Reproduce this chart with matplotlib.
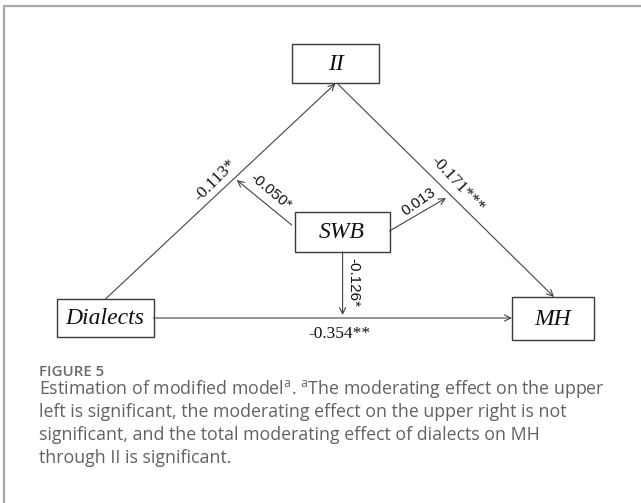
import matplotlib
matplotlib.use("Agg")
import matplotlib.pyplot as plt
from matplotlib.patches import Rectangle

W, H = 641, 503
DPI = 100

# ---- data ----
node_names = ["II", "SWB", "Dialects", "MH"]
edge_labels = ["-0.113*", "-0.050*", "0.013", "-0.171***", "-0.126*", "-0.354**"]
caption_title = "FIGURE 5"
caption_lines = [
    r"Estimation of modified model$^{\mathrm{a}}$. $^{\mathrm{a}}$The moderating effect on the upper",
    "left is significant, the moderating effect on the upper right is not",
    "significant, and the total moderating effect of dialects on MH",
    "through II is significant.",
]

# ---- layout (pixel coords) ----
boxes = {
    "II": (291.7, 44, 379.3, 83),
    "SWB": (294.5, 212, 389.5, 252),
    "Dialects": (57, 299, 153.5, 337),
    "MH": (512, 297, 594, 340),
}
arrows = [
    ((105.5, 299), (335.5, 83.5)),   # Dialects -> II
    ((338.3, 84.5), (554, 297)),     # II -> MH
    ((153.5, 318), (512, 318)),      # Dialects -> MH
    ((342.6, 252), (342.6, 315)),    # SWB -> direct path
    ((291.7, 225), (236.7, 180)),    # SWB -> a path
    ((389.5, 231), (446, 198)),      # SWB -> b path
]
label_pos = [
    (215, 180, 45, "serif"),
    (271, 192, -40, "sans"),
    (419, 202, 35, "sans"),
    (458, 184, -47, "serif"),
    (353, 282, -90, "sans"),
    (339, 334, 0, "serif"),
]

plt.rcParams["mathtext.fontset"] = "custom"
plt.rcParams["mathtext.rm"] = "Open Sans"

fig = plt.figure(figsize=(W / DPI, H / DPI), dpi=DPI)
ax = fig.add_axes([0, 0, 1, 1])
ax.set_xlim(0, W)
ax.set_ylim(H, 0)
ax.axis("off")

# panel border (top and left)
ax.plot([4, 4, W], [H, 6, 6], color="#a8a8a8", lw=1.6, solid_capstyle="butt")

edge_col = "#444444"
for name in node_names:
    x0, y0, x1, y1 = boxes[name]
    ax.add_patch(Rectangle((x0, y0), x1 - x0, y1 - y0, fill=False,
                           ec="#3a3a3a", lw=1.0))
    ax.text((x0 + x1) / 2, (y0 + y1) / 2 + 1, name, ha="center", va="center",
            fontsize=17, family="Liberation Serif", style="italic", color="#111111")

for (s, e) in arrows:
    ax.annotate("", xy=e, xytext=s,
                arrowprops=dict(arrowstyle="->,head_length=0.45,head_width=0.22",
                                color=edge_col, lw=0.8,
                                shrinkA=0, shrinkB=0))

for lab, (x, y, rot, fam) in zip(edge_labels, label_pos):
    family = "Liberation Serif" if fam == "serif" else "Liberation Sans"
    size = 12.5 if fam == "serif" else 11
    ax.text(x, y, lab, ha="center", va="center", rotation=rot,
            rotation_mode="anchor", fontsize=size, family=family, color="#111111")

cap_col = "#626262"
ax.text(39, 372, caption_title, ha="left", va="center", fontsize=10.8,
        family="Open Sans", weight="semibold", color="#6a6a6a")
for i, line in enumerate(caption_lines):
    ax.text(39, 389 + i * 23, line, ha="left", va="center", fontsize=12.8,
            family="Open Sans", color=cap_col)

fig.savefig("out.png", dpi=DPI)
